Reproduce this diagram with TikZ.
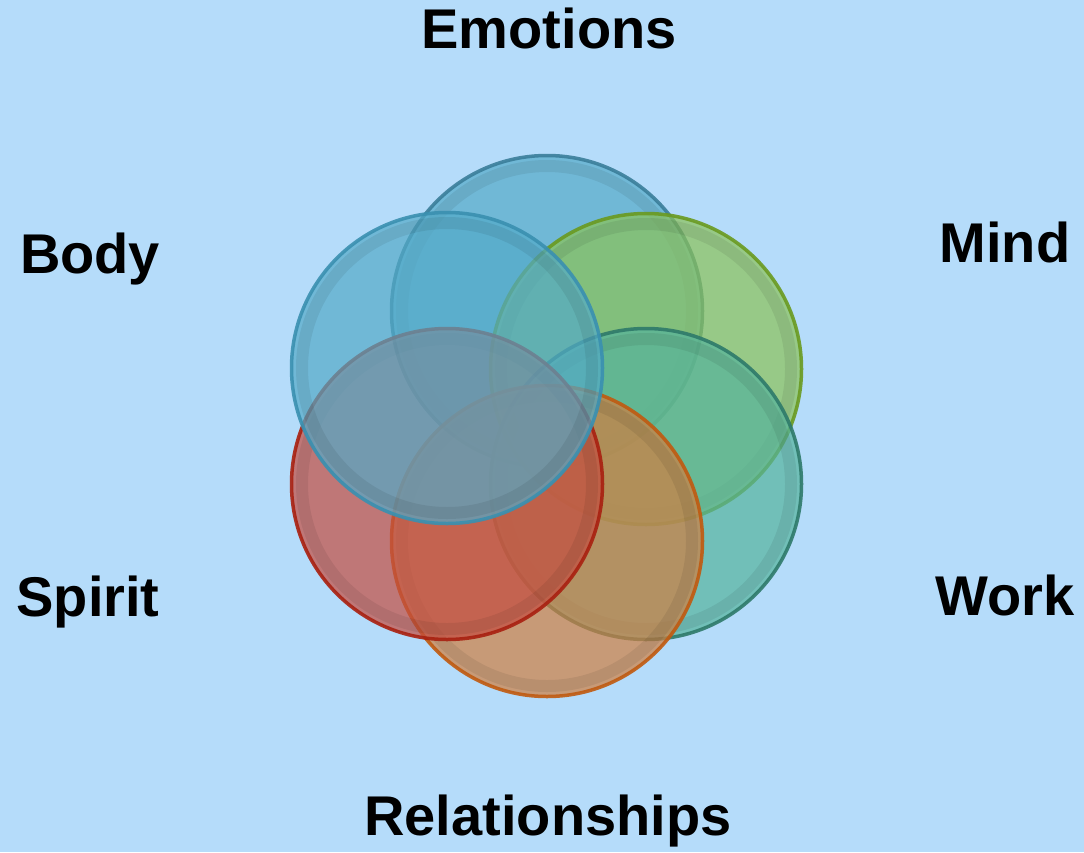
\documentclass[tikz,border=0pt]{standalone}
\usepackage{fontspec}
\setmainfont{Liberation Sans}
\usetikzlibrary{positioning}

\definecolor{bgblue}{RGB}{181,220,250}
\definecolor{emofill}{HTML}{53AAC8}
\definecolor{emoline}{HTML}{3A7E9A}
\definecolor{mindfill}{HTML}{8BC257}
\definecolor{mindline}{HTML}{6A9A20}
\definecolor{workfill}{HTML}{55B39C}
\definecolor{workline}{HTML}{2E7A6A}
\definecolor{relfill}{HTML}{D07E40}
\definecolor{relline}{HTML}{C05A10}
\definecolor{spiritfill}{HTML}{C44D40}
\definecolor{spiritline}{HTML}{A82010}
\definecolor{bodyfill}{HTML}{53AAC8}
\definecolor{bodyline}{HTML}{3A90B0}

\tikzset{
  petal/.style={circle, minimum size=311pt, inner sep=0pt, line width=3.5pt,
    fill opacity=0.7, draw opacity=0.9},
  tag/.style={anchor=base, font=\fontsize{56}{60}\selectfont\bfseries, text=black}
}

\begin{document}
\begin{tikzpicture}[x=1pt,y=-1pt]

\fill[bgblue] (0,0) rectangle (1084,852);
\useasboundingbox (0,0) rectangle (1084,852);

% circles, drawn from the top one round to the body
\foreach \name/\x/\y/\col in {emo/547/311/emo, mind/646/369/mind, work/646/484/work,
    rel/547/541/rel, spirit/447/484/spirit, body/447/368/body} {
    \node[petal, fill=\col fill, draw=\col line] (\name) at (\x,\y) {};
    % bevel band inside the rim
    \draw[black, opacity=0.07, line width=12pt] (\name.center) circle (145pt);
}

\node[tag] (emotions) at (549,48) {Emotions};
\node[tag] (bodytag) at (90,273) {Body};
\node[tag] (mindtag) at (1005,262) {Mind};
\node[tag] (spirittag) at (88,616) {Spirit};
\node[tag] (worktag) at (1005,615) {Work};
\node[tag] (reltag) at (548,835) {Relationships};
\end{tikzpicture}
\end{document}
